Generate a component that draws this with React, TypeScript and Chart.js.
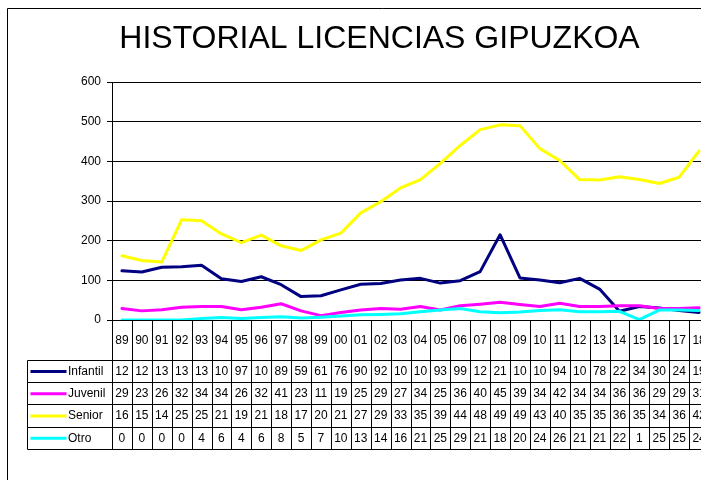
import { useEffect, useRef } from "react";
import { Chart, registerables } from "chart.js";

Chart.register(...registerables);

const TITLE = "HISTORIAL LICENCIAS GIPUZKOA";

const YEARS = [
  "89", "90", "91", "92", "93", "94", "95", "96", "97", "98", "99",
  "00", "01", "02", "03", "04", "05", "06", "07", "08", "09", "10",
  "11", "12", "13", "14", "15", "16", "17", "18",
];

const INFANTIL = [124, 121, 133, 134, 138, 104, 97, 109, 89, 59, 61, 76, 90, 92, 101, 105, 93, 99, 122, 215, 106, 101, 94, 105, 78, 22, 34, 30, 24, 19];
const JUVENIL = [29, 23, 26, 32, 34, 34, 26, 32, 41, 23, 11, 19, 25, 29, 27, 34, 25, 36, 40, 45, 39, 34, 42, 34, 34, 36, 36, 29, 29, 31];
const SENIOR = [162, 150, 146, 253, 250, 217, 195, 214, 187, 175, 202, 219, 270, 298, 333, 354, 395, 440, 480, 492, 490, 432, 402, 354, 353, 361, 354, 344, 360, 426];
const OTRO = [0, 0, 0, 0, 4, 6, 4, 6, 8, 5, 7, 10, 13, 14, 16, 21, 25, 29, 21, 18, 20, 24, 26, 21, 21, 22, 1, 25, 25, 24];

const SERIES_NAMES = ["Infantil", "Juvenil", "Senior", "Otro"];
const SERIES_VALUES = [INFANTIL, JUVENIL, SENIOR, OTRO];
const SERIES_COLORS = ["#000080", "#FF00FF", "#FFFF00", "#00FFFF"];

const Y_MIN = 0;
const Y_MAX = 600;
const Y_STEP = 100;

const FONT = "'Liberation Sans', Arial, Helvetica, sans-serif";
const CANVAS_W = 756;
const CANVAS_H = 480;

const framePlugin = {
  id: "frameAndTitle",
  beforeDraw(chart: any) {
    const { ctx, width, height } = chart;
    ctx.save();
    ctx.fillStyle = "#ffffff";
    ctx.fillRect(0, 0, width, height);
    ctx.strokeStyle = "#000000";
    ctx.lineWidth = 1;
    ctx.beginPath();
    ctx.moveTo(7.5, height + 2);
    ctx.lineTo(7.5, 8.5);
    ctx.lineTo(width + 2, 8.5);
    ctx.stroke();
    ctx.fillStyle = "#000000";
    ctx.font = `32px ${FONT}`;
    ctx.textAlign = "center";
    ctx.textBaseline = "alphabetic";
    ctx.fillText(TITLE, 379.5, 47.7);
    ctx.restore();
  },
};

const tablePlugin = {
  id: "dataTable",
  afterDraw(chart: any) {
    const { ctx, chartArea, width } = chart;
    const xs = chart.scales.x;
    const n = YEARS.length;
    const colW = (chartArea.right - chartArea.left) / n;
    const top = chartArea.bottom;
    const headerBottom = top + 40;
    const rowH = 22.2;
    const tableLeft = 27.5;
    const tableBottom = headerBottom + rowH * SERIES_NAMES.length;
    const px = (v: number) => Math.round(v) + 0.5;

    ctx.save();
    ctx.strokeStyle = "#000000";
    ctx.lineWidth = 1;
    ctx.beginPath();
    for (let r = 0; r <= SERIES_NAMES.length; r++) {
      const y = px(headerBottom + r * rowH);
      ctx.moveTo(tableLeft, y);
      ctx.lineTo(width + 2, y);
    }
    for (let i = 0; i <= n; i++) {
      const x = px(xs.getPixelForValue(i) - colW / 2);
      ctx.moveTo(x, top);
      ctx.lineTo(x, px(tableBottom));
    }
    ctx.moveTo(tableLeft, px(headerBottom));
    ctx.lineTo(tableLeft, px(tableBottom));
    ctx.stroke();

    ctx.fillStyle = "#000000";
    ctx.font = `12px ${FONT}`;
    ctx.textAlign = "center";
    ctx.textBaseline = "middle";
    const headerMid = (top + headerBottom) / 2 + 0.5;
    YEARS.forEach((yr, i) => {
      ctx.fillText(yr, xs.getPixelForValue(i), headerMid);
    });

    SERIES_NAMES.forEach((name, r) => {
      const yc = headerBottom + (r + 0.5) * rowH + 0.5;
      ctx.strokeStyle = SERIES_COLORS[r];
      ctx.lineWidth = 3;
      ctx.beginPath();
      ctx.moveTo(30.5, yc);
      ctx.lineTo(66.5, yc);
      ctx.stroke();
      ctx.fillStyle = "#000000";
      ctx.textAlign = "left";
      ctx.fillText(name, 68, yc);
      ctx.textAlign = "center";
      const vals = SERIES_VALUES[r];
      vals.forEach((v, i) => {
        let t = String(v);
        while (t.length > 1 && ctx.measureText(t).width > colW - 5) {
          t = t.slice(0, -1);
        }
        ctx.fillText(t, xs.getPixelForValue(i), yc);
      });
    });
    ctx.restore();
  },
};

export default function App() {
  const ref = useRef<HTMLCanvasElement | null>(null);

  useEffect(() => {
    if (!ref.current) return;
    const chart = new Chart(ref.current, {
      type: "line",
      data: {
        labels: YEARS,
        datasets: SERIES_NAMES.map((name, i) => ({
          label: name,
          data: SERIES_VALUES[i],
          borderColor: SERIES_COLORS[i],
          backgroundColor: SERIES_COLORS[i],
          borderWidth: 3,
          pointRadius: 0,
          pointHoverRadius: 0,
          tension: 0,
          fill: false,
          borderJoinStyle: "round" as const,
          borderCapStyle: "round" as const,
          order: SERIES_NAMES.length - 1 - i,
        })),
      },
      options: {
        responsive: false,
        animation: false,
        devicePixelRatio: 1,
        layout: {
          padding: { top: 82, bottom: CANVAS_H - 320, left: 0, right: CANVAS_W - 709 },
        },
        plugins: {
          legend: { display: false },
          title: { display: false },
          tooltip: { enabled: false },
        },
        scales: {
          x: {
            type: "category",
            display: false,
            offset: true,
          },
          y: {
            min: Y_MIN,
            max: Y_MAX,
            afterFit: (scale: any) => {
              scale.width = 112;
            },
            ticks: {
              stepSize: Y_STEP,
              color: "#000000",
              padding: 6,
              font: { family: FONT, size: 12 },
            },
            grid: {
              color: "#000000",
              lineWidth: 1,
              drawTicks: true,
              tickLength: 5,
            },
            border: { display: true, color: "#000000", width: 1 },
          },
        },
      },
      plugins: [framePlugin, tablePlugin],
    });
    return () => chart.destroy();
  }, []);

  return (
    <div
      style={{
        position: "fixed",
        left: 0,
        top: 0,
        width: 701,
        height: 480,
        overflow: "hidden",
        background: "#ffffff",
      }}
    >
      <canvas
        ref={ref}
        width={CANVAS_W}
        height={CANVAS_H}
        style={{ display: "block", width: CANVAS_W, height: CANVAS_H }}
      />
    </div>
  );
}
